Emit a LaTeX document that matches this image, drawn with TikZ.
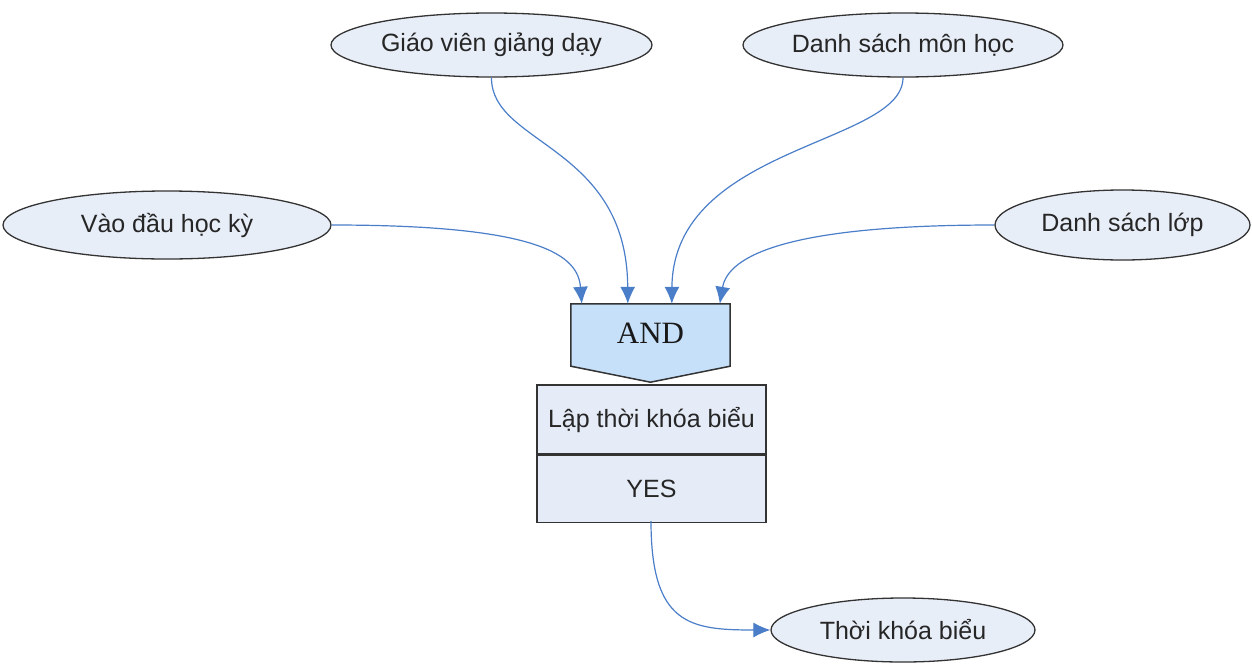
\documentclass[tikz,border=0pt]{standalone}
\usepackage{fontspec}
\setmainfont{Liberation Sans}
\newfontfamily\andfont{Liberation Serif}
\usetikzlibrary{shapes.geometric,arrows.meta}
\definecolor{ellfill}{HTML}{E8EEF8}
\definecolor{andfill}{HTML}{C6E0FA}
\definecolor{boxfill}{HTML}{E6ECF7}
\definecolor{linkblue}{HTML}{4A7EC8}
\definecolor{edge}{HTML}{333333}
\tikzset{
  ell/.style={ellipse, draw=edge, line width=1.3pt, fill=ellfill, inner sep=0pt,
    font=\fontsize{25}{29}\selectfont, text=black!85},
  cell/.style={rectangle, draw=edge, line width=1.5pt, fill=boxfill, inner sep=0pt,
    minimum width=229pt, font=\fontsize{25}{29}\selectfont, text=black!85},
  link/.style={draw=linkblue, line width=1.2pt, -{Latex[length=17pt,width=15pt]}}
}
\begin{document}
\begin{tikzpicture}[x=1pt,y=-1pt]
\useasboundingbox (0,0) rectangle (1252,664);
% ellipses
\node[ell, minimum width=321pt, minimum height=64pt] (gv) at (491.5,45) {Giáo viên giảng dạy};
\node[ell, minimum width=320pt, minimum height=64pt] (mh) at (903,45) {Danh sách môn học};
\node[ell, minimum width=328pt, minimum height=68pt] (vd) at (167,225) {Vào đầu học kỳ};
\node[ell, minimum width=255pt, minimum height=70pt] (dl) at (1122.5,225) {Danh sách lớp};
\node[ell, minimum width=264pt, minimum height=64pt] (tk) at (903,630) {Thời khóa biểu};
% AND gate
\node[rectangle, inner sep=0pt, minimum width=159pt, minimum height=62pt] (and) at (650.5,335) {};
\draw[edge, fill=andfill, line width=1.5pt, line join=miter] (and.north west) -- (and.north east) -- (and.south east)
   -- ([yshift=-16pt]and.south) -- (and.south west) -- cycle;
\node[font=\andfont\fontsize{31}{34}\selectfont, text=black!90] at ([yshift=2pt]and.center) {AND};
% process box
\node[cell, minimum height=69pt] (lap) at (651.5,419.5) {Lập thời khóa biểu};
\node[cell, minimum height=67pt, anchor=north] (yes) at (lap.south) {YES};
% connectors
\coordinate (a1) at ([xshift=11pt]and.north west);
\coordinate (a2) at ([xshift=57pt]and.north west);
\coordinate (a3) at ([xshift=101pt]and.north west);
\coordinate (a4) at ([xshift=149pt]and.north west);
\draw[link] (vd.east) .. controls (540,225) and (578,255) .. (a1);
\draw[link] (gv.south) .. controls (491,145) and (627,145) .. (a2);
\draw[link] (mh.south) .. controls (903,145) and (673,145) .. (a3);
\draw[link] (dl.west) .. controls (790,225) and (728,255) .. (a4);
\coordinate (yb) at (651,521);
\draw[link] (yb) .. controls (651,625) and (690,630) .. (tk.west);
\end{tikzpicture}
\end{document}
